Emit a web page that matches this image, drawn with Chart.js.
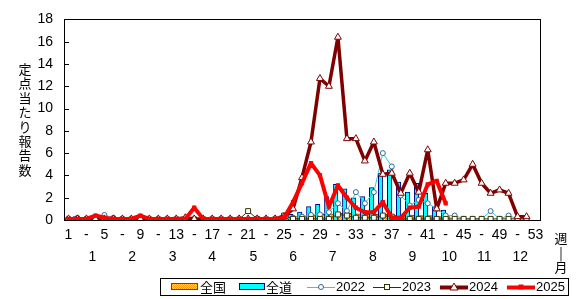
<!DOCTYPE html>
<html>
<head>
<meta charset="utf-8">
<script src="https://cdn.jsdelivr.net/npm/chart.js@4.4.1/dist/chart.umd.min.js"></script>
<style>
body { margin: 0; background: #fff; }
#wrap { width: 579px; height: 299px; }
</style>
</head>
<body>
<div id="wrap"><canvas id="chart" width="579" height="299"></canvas></div>
<script>
// week numbers (categories)
const weeks = ['1','2','3','4','5','6','7','8','9','10','11','12','13','14','15','16','17','18','19','20',
  '21','22','23','24','25','26','27','28','29','30','31','32','33','34','35','36','37','38','39','40',
  '41','42','43','44','45','46','47','48','49','50','51','52','53'];

// tick labels shown under the x axis
const weekLabels = ['1','','-','','5','','-','','9','','-','','13','','-','','17','','-','','21','','-','','25','','-','',
  '29','','-','','33','','-','','37','','-','','41','','-','','45','','-','','49','','-','','53'];

// month labels and where they sit (in week index units)
const monthLabels = ['1','2','3','4','5','6','7','8','9','10','11','12'];
const monthPos = [2.67, 7.1, 11.6, 16.0, 20.6, 25.0, 29.4, 33.9, 38.3, 42.4, 46.3, 50.3];

const yTicks = [0, 2, 4, 6, 8, 10, 12, 14, 16, 18];

// 全国 (national) 2025
const zenkoku = [0.05,0.05,0.05,0.05,0.05,0.05,0.05,0.05,0.05,0.05,0.05,0.05,0.05,0.05,0.05,0.05,0.05,0.05,0.05,0.05,
  0.05,0.05,0.1,0.1,0.2,0.3,0.35,0.45,0.5,0.55,0.6,0.6,0.55,0.5,0.5,0.5,0.45,0.4,0.45,0.4,
  0.4,0.3,0.3,null,null,null,null,null,null,null,null,null,null];

// 全道 (Hokkaido) 2025
const zendo = [0.1,0.3,0.2,0.1,0.1,0.2,0.1,0.1,0.1,0.1,0.1,0.1,0.1,0.1,0.1,0.1,0.2,0.1,0.1,0.1,
  0.1,0.1,0.1,0.2,0.4,0.5,0.7,1.2,1.4,2.1,3.2,2.8,2.0,2.1,2.9,4.2,4.5,3.4,2.5,3.3,
  2.4,1.2,0.9,null,null,null,null,null,null,null,null,null,null];

const y2022 = [0.1,0.2,0.1,0.2,0.45,0.2,0.1,0.05,0.05,0.05,0.05,0.05,0.05,0.05,0.05,0.05,0.05,0.05,0.05,0.05,
  0.05,0.05,0.05,0.1,0.1,0.2,0.3,0.45,0.5,0.7,1.5,0.8,2.5,1.5,2.5,6.0,4.8,2.2,1.3,1.8,
  1.5,1.0,0.4,0.4,0.1,0.1,0.1,0.8,0.1,0.4,0.1,0.1,null];

const y2023 = [0.05,0.05,0.05,0.05,0.05,0.05,0.05,0.05,0.05,0.05,0.05,0.05,0.05,0.05,0.05,0.05,0.05,0.05,0.05,0.05,
  0.8,0.1,0.05,0.05,0.4,0.1,0.1,0.1,0.1,0.1,0.5,0.4,0.2,0.2,0.2,0.4,0.3,0.1,0.1,0.1,
  0.1,0.1,0.1,0.1,0.1,0.1,0.1,0.1,0.1,0.1,0.1,0.1,null];

const y2024 = [0.1,0.1,0.1,0.1,0.1,0.1,0.1,0.1,0.1,0.1,0.1,0.1,0.1,0.2,0.1,0.1,0.1,0.1,0.1,0.1,
  0.1,0.1,0.1,0.1,0.3,1.0,3.8,7.0,12.7,12.0,16.4,7.3,7.3,5.3,7.0,4.1,4.2,2.4,4.2,2.5,
  6.3,1.0,3.3,3.3,3.6,5.0,3.3,2.4,2.7,2.4,0.3,0.3,null];

const y2025 = [0.1,0.1,0.1,0.4,0.2,0.1,0.1,0.1,0.4,0.1,0.1,0.1,0.1,0.1,1.1,0.1,0.1,0.1,0.1,0.1,
  0.1,0.1,0.1,0.1,0.2,1.6,3.3,5.1,4.0,1.2,3.1,2.0,1.1,0.7,0.7,1.6,0.2,0.2,1.1,1.2,
  3.2,3.5,1.5,null,null,null,null,null,null,null,null,null,null];

// dotted yellow fill for 全国
function makeDots() {
    const c = document.createElement('canvas');
    c.width = 2; c.height = 2;
    const g = c.getContext('2d');
    g.fillStyle = '#FFEE33';
    g.fillRect(0, 0, 2, 2);
    g.fillStyle = '#FF9900';
    g.fillRect(0, 0, 1, 1);
    g.fillRect(1, 1, 1, 1);
    return g.createPattern(c, 'repeat');
}
const dots = makeDots();

const fontLat = '"Liberation Sans", Arial, sans-serif';
const fontJp = '"Noto Sans CJK JP", sans-serif';

function marker(ctx, style, x, y) {
    ctx.save();
    ctx.lineWidth = 1;
    if (style === 'circle') {
        ctx.fillStyle = '#fff'; ctx.strokeStyle = '#336699';
        ctx.beginPath(); ctx.arc(x, y, 2.5, 0, Math.PI * 2); ctx.fill(); ctx.stroke();
    } else if (style === 'square') {
        ctx.fillStyle = '#fff'; ctx.strokeStyle = '#333300';
        ctx.fillRect(x - 2.5, y - 2.5, 5, 5); ctx.strokeRect(x - 2.5, y - 2.5, 5, 5);
    } else if (style === 'triangle') {
        ctx.fillStyle = '#fff'; ctx.strokeStyle = '#800000';
        ctx.beginPath(); ctx.moveTo(x, y - 4); ctx.lineTo(x + 4, y + 3); ctx.lineTo(x - 4, y + 3); ctx.closePath();
        ctx.fill(); ctx.stroke();
    } else if (style === 'redsq') {
        ctx.fillStyle = '#FF0000';
        ctx.fillRect(x - 2.5, y - 2.5, 5, 5);
    }
    ctx.restore();
}

const extras = {
    id: 'extras',
    afterDraw(chart) {
        const ctx = chart.ctx;
        const a = chart.chartArea;
        const xs = chart.scales.x, ys = chart.scales.y;
        ctx.save();
        // frame
        ctx.strokeStyle = '#000';
        ctx.lineWidth = 1;
        ctx.strokeRect(Math.round(a.left) + 0.5, Math.round(a.top) + 0.5, Math.round(a.right - a.left), Math.round(a.bottom - a.top));
        // inward y ticks
        ctx.beginPath();
        yTicks.forEach(v => {
            const py = Math.round(ys.getPixelForValue(v)) + 0.5;
            ctx.moveTo(a.left, py);
            ctx.lineTo(a.left + 5, py);
        });
        ctx.stroke();
        // month row
        ctx.fillStyle = '#000';
        ctx.font = '14px ' + fontLat;
        ctx.textAlign = 'center';
        ctx.textBaseline = 'middle';
        monthLabels.forEach((m, i) => {
            ctx.fillText(m, xs.getPixelForValue(monthPos[i]), 257);
        });
        // 週|月
        ctx.font = '13px ' + fontJp;
        ctx.fillText('週', 561, 238);
        ctx.fillText('|', 561, 253);
        ctx.fillText('月', 561, 267);
        // y title, stacked
        const title = '定点当たり報告数';
        for (let i = 0; i < title.length; i++) {
            ctx.fillText(title[i], 25, 69 + i * 14.4);
        }
        // legend box
        ctx.strokeStyle = '#000';
        ctx.strokeRect(160.5, 278.5, 408, 17);
        const ly = 287;
        ctx.textAlign = 'left';
        ctx.font = '13px ' + fontJp;
        ctx.fillStyle = dots;
        ctx.fillRect(171, 283, 27, 7);
        ctx.strokeStyle = '#993300';
        ctx.strokeRect(171.5, 283.5, 26, 6);
        ctx.fillStyle = '#000';
        ctx.fillText('全国', 200, ly);
        ctx.fillStyle = '#00FFFF';
        ctx.fillRect(239, 283, 26, 7);
        ctx.strokeStyle = '#000080';
        ctx.strokeRect(239.5, 283.5, 25, 6);
        ctx.fillStyle = '#000';
        ctx.fillText('全道', 266, ly);
        const lines = [
            { x: 307, color: '#33CCCC', w: 1, m: 'circle', t: '2022' },
            { x: 373, color: '#333300', w: 1, m: 'square', t: '2023' },
            { x: 440, color: '#800000', w: 4, m: 'triangle', t: '2024' },
            { x: 507, color: '#FF0000', w: 4, m: 'redsq', t: '2025' }
        ];
        lines.forEach(l => {
            ctx.strokeStyle = l.color;
            ctx.lineWidth = l.w;
            ctx.beginPath();
            ctx.moveTo(l.x, ly + 0.5);
            ctx.lineTo(l.x + 28, ly + 0.5);
            ctx.stroke();
            marker(ctx, l.m, l.x + 14, ly);
            ctx.fillStyle = '#000';
            ctx.font = '13px ' + fontLat;
            ctx.fillText(l.t, l.x + 29, ly);
        });
        ctx.restore();
    }
};

const ctx = document.getElementById('chart').getContext('2d');

new Chart(ctx, {
    type: 'bar',
    data: {
        labels: weeks,
        datasets: [
            { label: '全国', data: zenkoku, backgroundColor: dots, borderColor: '#993300', borderWidth: 1,
              categoryPercentage: 1.0, barPercentage: 1.0, order: 6 },
            { label: '全道', data: zendo, backgroundColor: '#00FFFF', borderColor: '#000080', borderWidth: 1,
              categoryPercentage: 1.0, barPercentage: 1.0, order: 5 },
            { type: 'line', label: '2022', data: y2022, borderColor: '#33CCCC', borderWidth: 1,
              pointStyle: 'circle', pointRadius: 2.5, pointBackgroundColor: '#fff', pointBorderColor: '#336699',
              pointBorderWidth: 1, order: 4 },
            { type: 'line', label: '2023', data: y2023, borderColor: '#333300', borderWidth: 1,
              pointStyle: 'rect', pointRadius: 3.5, pointBackgroundColor: '#fff', pointBorderColor: '#333300',
              pointBorderWidth: 1, order: 3 },
            { type: 'line', label: '2024', data: y2024, borderColor: '#800000', borderWidth: 3.5,
              borderJoinStyle: 'round', pointStyle: 'triangle', pointRadius: 4, pointBackgroundColor: '#fff',
              pointBorderColor: '#800000', pointBorderWidth: 1, order: 2 },
            { type: 'line', label: '2025', data: y2025, borderColor: '#FF0000', borderWidth: 4,
              borderJoinStyle: 'round', pointStyle: 'rect', pointRadius: 3, pointBackgroundColor: '#FF0000',
              pointBorderColor: '#FF0000', pointBorderWidth: 0, order: 1 }
        ]
    },
    options: {
        responsive: false,
        animation: false,
        events: [],
        layout: { padding: { left: 0, right: 39, top: 16, bottom: 0 } },
        plugins: {
            legend: { display: false },
            tooltip: { enabled: false }
        },
        elements: { line: { tension: 0 } },
        scales: {
            x: {
                offset: true,
                grid: { display: false, drawTicks: false },
                border: { display: false },
                ticks: {
                    autoSkip: false,
                    maxRotation: 0,
                    padding: 7,
                    color: '#000',
                    font: { family: fontLat, size: 14 },
                    callback: (v, i) => weekLabels[i]
                },
                afterFit: s => { s.height = 79; }
            },
            y: {
                min: 0,
                max: 18,
                grid: { display: false, drawTicks: false },
                border: { display: false },
                ticks: {
                    stepSize: 2,
                    padding: 11,
                    color: '#000',
                    font: { family: fontLat, size: 14 }
                },
                afterFit: s => { s.width = 64; }
            }
        }
    },
    plugins: [extras]
});
</script>
</body>
</html>
